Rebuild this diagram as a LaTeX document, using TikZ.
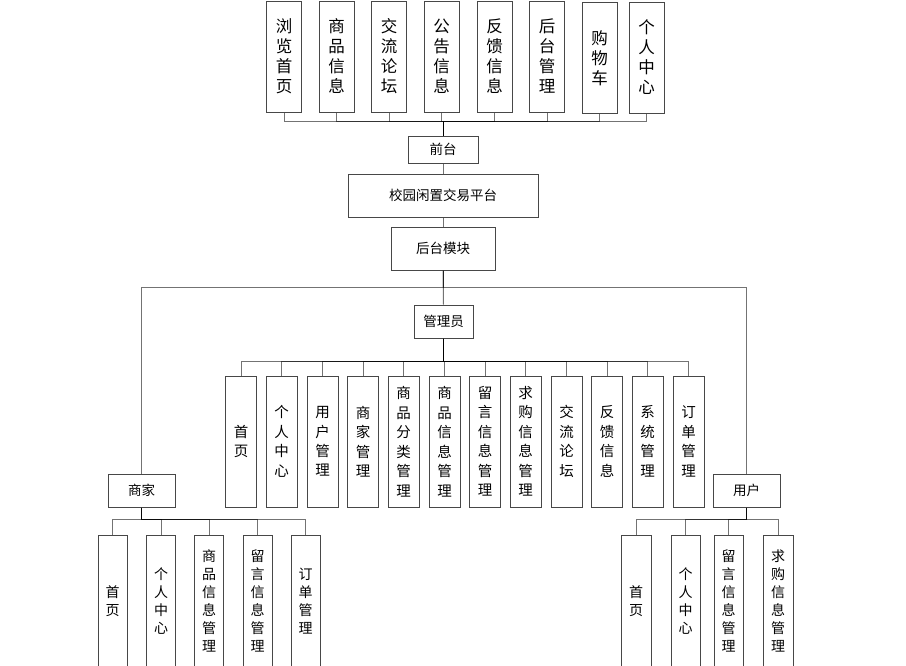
\documentclass[tikz,border=0pt]{standalone}
\usepackage{fontspec}
\newfontfamily\cjk{Noto Sans CJK SC}
\begin{document}
\begin{tikzpicture}[x=1pt,y=-1pt,
  box/.style={draw=black!72,line width=1pt,fill=white,inner sep=0pt,align=center},
  topv/.style={box,minimum width=35,minimum height=111,font={\cjk\fontsize{16.5}{20}\selectfont}},
  hbox/.style={box,font={\cjk\fontsize{13.5}{16}\selectfont}},
  admv/.style={box,minimum width=31,minimum height=131,font={\cjk\fontsize{14.5}{19.5}\selectfont}},
  botv/.style={box,minimum width=29,minimum height=132,font={\cjk\fontsize{14}{18}\selectfont}},
  conn/.style={draw=black,draw opacity=0.55,line width=1pt}]
\useasboundingbox (0,0) rectangle (906,665);
\begin{scope}
\clip (0,0) rectangle (906,665);
% coordinates for buses
\coordinate (bus1) at (443,121);
\coordinate (hb) at (443,287);
\coordinate (bus2) at (443,361);
\coordinate (bus3) at (142,519);
\coordinate (bus4) at (746,519);

% top row
\node[topv] (t1) at (284,56.5) {浏\\览\\首\\页};
\node[topv] (t2) at (336.5,56.5) {商\\品\\信\\息};
\node[topv] (t3) at (389,56.5) {交\\流\\论\\坛};
\node[topv] (t4) at (441.5,56.5) {公\\告\\信\\息};
\node[topv] (t5) at (494.5,56.5) {反\\馈\\信\\息};
\node[topv] (t6) at (547,56.5) {后\\台\\管\\理};
\node[topv] (t7) at (599.5,58) {购\\物\\车};
\node[topv] (t8) at (646.5,57.5) {个\\人\\中\\心};

% middle chain
\node[hbox,minimum width=70,minimum height=27] (qt) at (443,149.5) {前台};
\node[hbox,minimum width=190,minimum height=43] (pt) at (443,195.5) {校园闲置交易平台};
\node[hbox,minimum width=104,minimum height=43] (hm) at (443,248.5) {后台模块};
\node[hbox,minimum width=59,minimum height=33] (gl) at (443.5,321.5) {管理员};
\node[hbox,minimum width=67,minimum height=33] (sj) at (141.5,490.5) {商家};
\node[hbox,minimum width=67,minimum height=33] (yh) at (746.5,490.5) {用户};

% admin children
\node[admv] (a1) at (241,441.5) {首\\页};
\node[admv] (a2) at (281.5,441.5) {个\\人\\中\\心};
\node[admv] (a3) at (322.5,441.5) {用\\户\\管\\理};
\node[admv] (a4) at (363,441.5) {商\\家\\管\\理};
\node[admv] (a5) at (403.5,441.5) {商\\品\\分\\类\\管\\理};
\node[admv] (a6) at (444.5,441.5) {商\\品\\信\\息\\管\\理};
\node[admv] (a7) at (485,441.5) {留\\言\\信\\息\\管\\理};
\node[admv] (a8) at (525.5,441.5) {求\\购\\信\\息\\管\\理};
\node[admv] (a9) at (566.5,441.5) {交\\流\\论\\坛};
\node[admv] (a10) at (607,441.5) {反\\馈\\信\\息};
\node[admv] (a11) at (647.5,441.5) {系\\统\\管\\理};
\node[admv] (a12) at (688.5,441.5) {订\\单\\管\\理};

% merchant children
\node[botv] (s1) at (112.5,601) {首\\页};
\node[botv] (s2) at (161,601) {个\\人\\中\\心};
\node[botv] (s3) at (209,601) {商\\品\\信\\息\\管\\理};
\node[botv] (s4) at (257.5,601) {留\\言\\信\\息\\管\\理};
\node[botv] (s5) at (305.5,601) {订\\单\\管\\理};

% user children
\node[botv,minimum width=30] (u1) at (636,601) {首\\页};
\node[botv] (u2) at (685.5,601) {个\\人\\中\\心};
\node[botv] (u3) at (728.5,601) {留\\言\\信\\息\\管\\理};
\node[botv,minimum width=30] (u4) at (778,601) {求\\购\\信\\息\\管\\理};

% connectors
\foreach \n in {t1,t2,t3,t4,t5,t6,t7,t8}
  \draw[conn] (\n.south) -- (\n.south |- bus1) -| (qt.north);
\draw[conn] (qt.south) -- (pt.north);
\draw[conn] (pt.south) -- (hm.north);
\draw[conn] (hm.south) -- (gl.north);
\draw[conn] (hm.south) -- (hb) -| (sj.north);
\draw[conn] (hm.south) -- (hb) -| (yh.north);
\foreach \n in {a1,a2,a3,a4,a5,a6,a7,a8,a9,a10,a11,a12}
  \draw[conn] (gl.south) -- (gl.south |- bus2) -| (\n.north);
\foreach \n in {s1,s2,s3,s4,s5}
  \draw[conn] (sj.south) -- (sj.south |- bus3) -| (\n.north);
\foreach \n in {u1,u2,u3,u4}
  \draw[conn] (yh.south) -- (yh.south |- bus4) -| (\n.north);
\end{scope}
\end{tikzpicture}
\end{document}
